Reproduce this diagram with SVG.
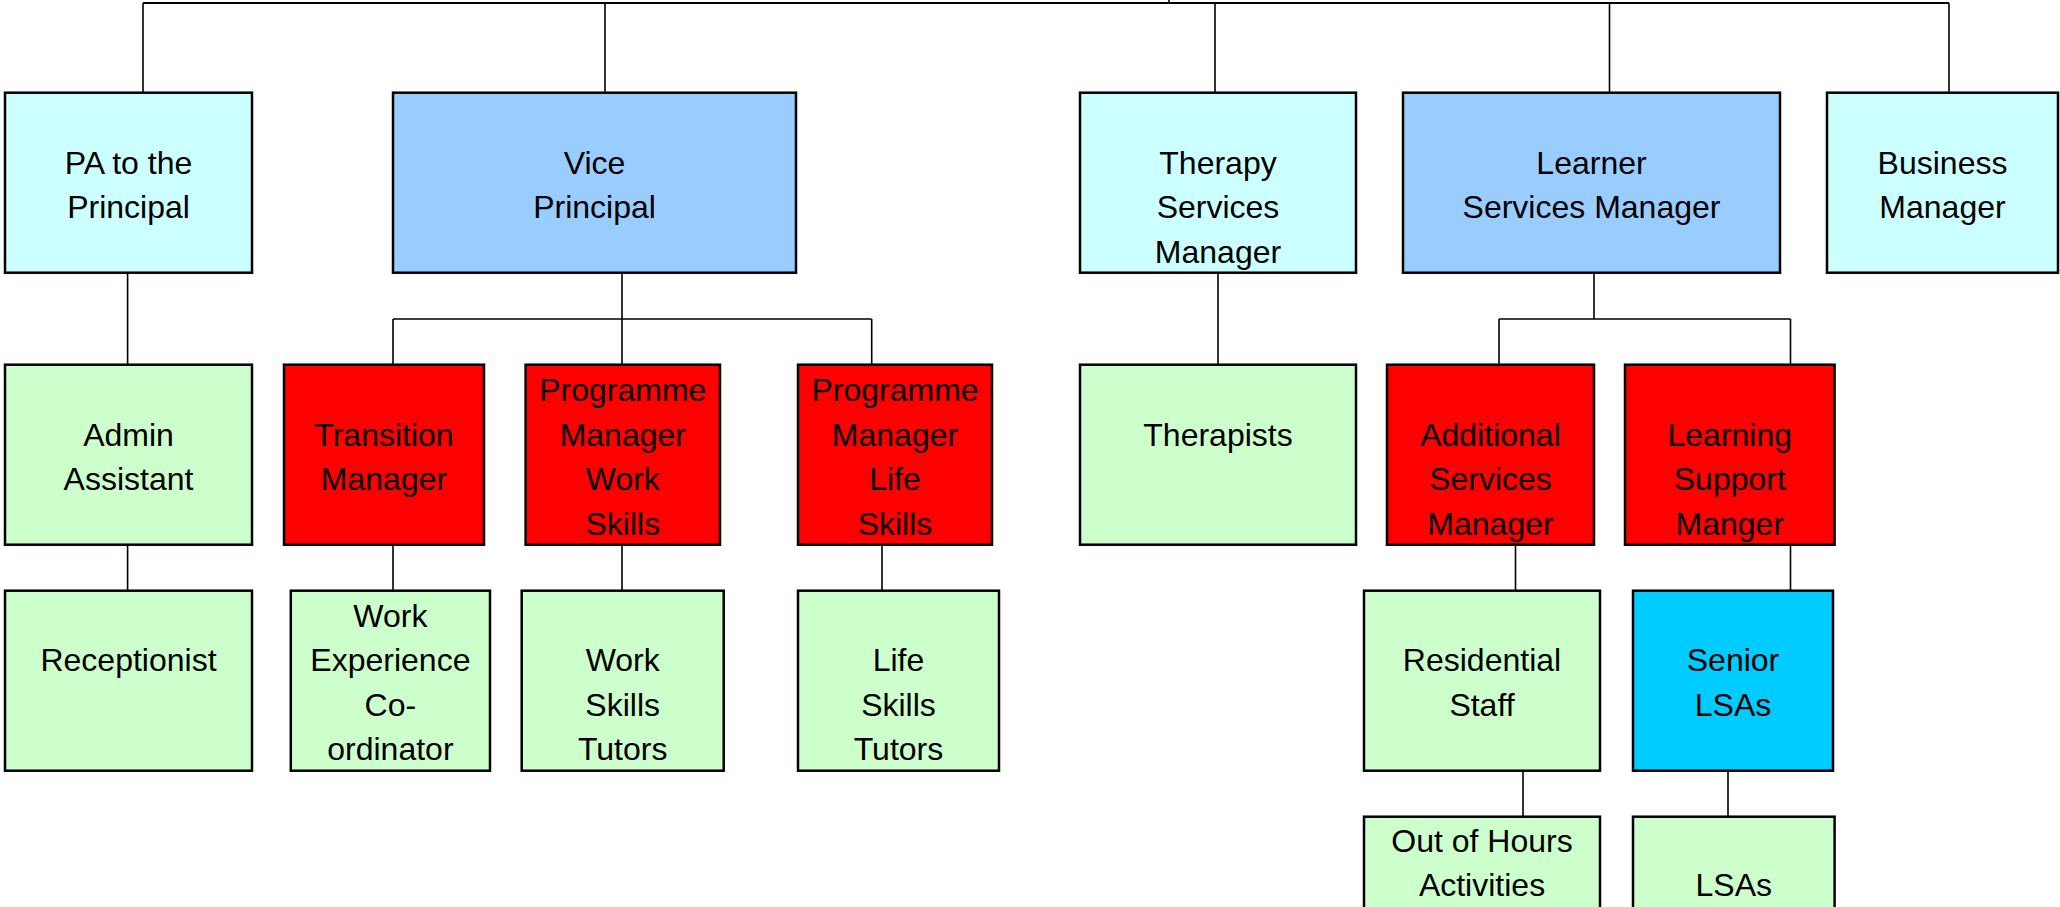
<svg xmlns="http://www.w3.org/2000/svg" width="2060" height="907" viewBox="0 0 2060 907">
<style>
.b{stroke:#000;stroke-width:2.5}
.c1{fill:#CCFFFF}.c2{fill:#99CCFF}.c3{fill:#FF0000}.c4{fill:#CCFFCC}.c5{fill:#00CCFF}
text{font-family:"Liberation Sans",Arial,sans-serif;font-size:32px;fill:#000;text-anchor:middle}
.conn path{fill:none;stroke:#000;stroke-width:1.6}
</style>
<rect width="2060" height="907" fill="#fff"/>
<g class="conn" id="connectors">
<path d="M143,3 H1949" style="stroke-width:2.2"/>
<path d="M1169,0 V3"/>
<path d="M143,3 V92.7 M605,3 V92.7 M1215,3 V92.7 M1609.5,3 V92.7 M1949,3 V92.7"/>
<path d="M127.6,272.7 V364.7 M127.6,544.7 V590.7"/>
<path d="M622,272.7 V364.7 M393,319 H871.7 M393,319 V364.7 M871.7,319 V364.7"/>
<path d="M393,544.7 V590.7 M622,544.7 V590.7 M882,544.7 V590.7"/>
<path d="M1218,272.7 V364.7"/>
<path d="M1594,272.7 V319 M1499,319 H1790.5 M1499,319 V364.7 M1790.5,319 V364.7"/>
<path d="M1515.5,544.7 V590.7 M1790.5,544.7 V590.7"/>
<path d="M1523,770.7 V816.7 M1728,770.7 V816.7"/>
</g>
<g id="pa"><rect class="b c1" x="5" y="92.7" width="247" height="180"/><text x="128.5" y="174">PA to the</text><text x="128.5" y="218">Principal</text></g>
<g id="vp"><rect class="b c2" x="393" y="92.7" width="403" height="180"/><text x="594.5" y="174">Vice</text><text x="594.5" y="218">Principal</text></g>
<g id="therapy"><rect class="b c1" x="1080" y="92.7" width="276" height="180"/><text x="1218" y="174">Therapy</text><text x="1218" y="218">Services</text><text x="1218" y="263">Manager</text></g>
<g id="learner"><rect class="b c2" x="1403" y="92.7" width="377" height="180"/><text x="1591.5" y="174">Learner</text><text x="1591.5" y="218">Services Manager</text></g>
<g id="business"><rect class="b c1" x="1827" y="92.7" width="231" height="180"/><text x="1942.5" y="174">Business</text><text x="1942.5" y="218">Manager</text></g>
<g id="admin"><rect class="b c4" x="5" y="364.7" width="247" height="180"/><text x="128.5" y="445.7">Admin</text><text x="128.5" y="490">Assistant</text></g>
<g id="transition"><rect class="b c3" x="284" y="364.7" width="200" height="180"/><text x="384" y="445.7">Transition</text><text x="384" y="490">Manager</text></g>
<g id="pmwork"><rect class="b c3" x="525.6" y="364.7" width="194.4" height="180"/><text x="622.8" y="400.5">Programme</text><text x="622.8" y="445.7">Manager</text><text x="622.8" y="490">Work</text><text x="622.8" y="534.5">Skills</text></g>
<g id="pmlife"><rect class="b c3" x="798" y="364.7" width="194" height="180"/><text x="895" y="400.5">Programme</text><text x="895" y="445.7">Manager</text><text x="895" y="490">Life</text><text x="895" y="534.5">Skills</text></g>
<g id="therapists"><rect class="b c4" x="1080" y="364.7" width="276" height="180"/><text x="1218" y="445.7">Therapists</text></g>
<g id="additional"><rect class="b c3" x="1387" y="364.7" width="207" height="180"/><text x="1490.5" y="445.7">Additional</text><text x="1490.5" y="490">Services</text><text x="1490.5" y="534.5">Manager</text></g>
<g id="learningsupport"><rect class="b c3" x="1625" y="364.7" width="209.6" height="180"/><text x="1729.8" y="445.7">Learning</text><text x="1729.8" y="490">Support</text><text x="1729.8" y="534.5">Manger</text></g>
<g id="receptionist"><rect class="b c4" x="5" y="590.7" width="247" height="180"/><text x="128.5" y="671">Receptionist</text></g>
<g id="workexp"><rect class="b c4" x="290.8" y="590.7" width="199.2" height="180"/><text x="390.4" y="626.7">Work</text><text x="390.4" y="671">Experience</text><text x="390.4" y="715.5">Co-</text><text x="390.4" y="760">ordinator</text></g>
<g id="wst"><rect class="b c4" x="521.7" y="590.7" width="202" height="180"/><text x="622.7" y="671">Work</text><text x="622.7" y="715.5">Skills</text><text x="622.7" y="760">Tutors</text></g>
<g id="lst"><rect class="b c4" x="798" y="590.7" width="201" height="180"/><text x="898.5" y="671">Life</text><text x="898.5" y="715.5">Skills</text><text x="898.5" y="760">Tutors</text></g>
<g id="residential"><rect class="b c4" x="1364" y="590.7" width="236" height="180"/><text x="1482" y="671">Residential</text><text x="1482" y="715.5">Staff</text></g>
<g id="senior"><rect class="b c5" x="1633" y="590.7" width="200" height="180"/><text x="1733" y="671">Senior</text><text x="1733" y="715.5">LSAs</text></g>
<g id="outofhours"><rect class="b c4" x="1364" y="816.7" width="236" height="180"/><text x="1482" y="852.3">Out of Hours</text><text x="1482" y="896">Activities</text></g>
<g id="lsas"><rect class="b c4" x="1633" y="816.7" width="201.6" height="180"/><text x="1733.8" y="896">LSAs</text></g>
</svg>
